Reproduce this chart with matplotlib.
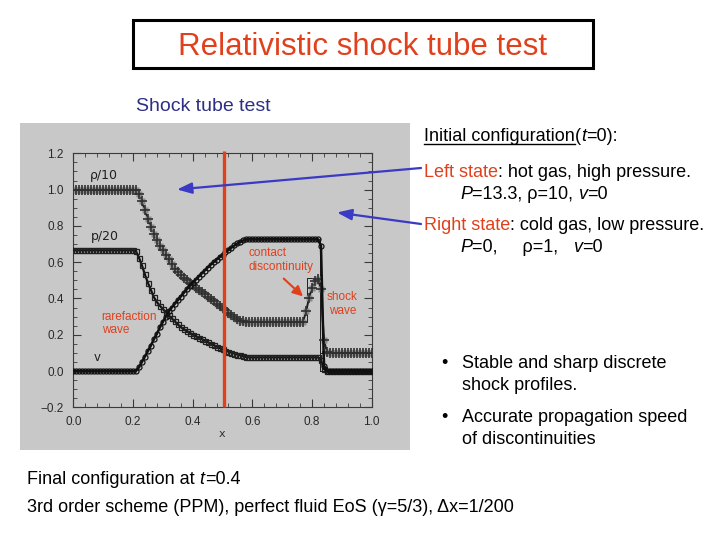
import matplotlib
matplotlib.use("Agg")
import matplotlib.pyplot as plt
from matplotlib.patches import Rectangle, FancyArrowPatch
from matplotlib.lines import Line2D
from matplotlib.ticker import MultipleLocator

plt.rcParams['font.family'] = ['Liberation Sans', 'DejaVu Sans']

# ---------------- data ----------------
x_grid = [i / 100 for i in range(101)]

rho10 = [1.0, 1.0, 1.0, 1.0, 1.0, 1.0, 1.0, 1.0, 1.0, 1.0,
         1.0, 1.0, 1.0, 1.0, 1.0, 1.0, 1.0, 1.0, 1.0, 1.0, 1.0,
         0.995, 0.975, 0.935, 0.885, 0.84, 0.795, 0.755, 0.72, 0.69, 0.665,
         0.64, 0.615, 0.59, 0.565, 0.545, 0.53, 0.515, 0.50, 0.485, 0.472,
         0.46, 0.447, 0.435, 0.422, 0.41, 0.398, 0.385, 0.372, 0.36, 0.347,
         0.335, 0.322, 0.31, 0.298, 0.287, 0.278, 0.273,
         0.27, 0.27, 0.27, 0.27, 0.27, 0.27, 0.27, 0.27, 0.27, 0.27,
         0.27, 0.27, 0.27, 0.27, 0.27, 0.27, 0.27, 0.27, 0.27, 0.27,
         0.33, 0.40, 0.46, 0.495, 0.505, 0.45, 0.17, 0.105,
         0.10, 0.10, 0.10, 0.10, 0.10, 0.10, 0.10, 0.10, 0.10, 0.10,
         0.10, 0.10, 0.10, 0.10, 0.10]

vel = [0.0, 0.0, 0.0, 0.0, 0.0, 0.0, 0.0, 0.0, 0.0, 0.0,
       0.0, 0.0, 0.0, 0.0, 0.0, 0.0, 0.0, 0.0, 0.0, 0.0, 0.0,
       0.0, 0.02, 0.05, 0.08, 0.11, 0.14, 0.175, 0.205, 0.24, 0.27,
       0.30, 0.33, 0.35, 0.37, 0.39, 0.41, 0.43, 0.45, 0.47, 0.487,
       0.503, 0.52, 0.537, 0.553, 0.57, 0.585, 0.60, 0.614, 0.627, 0.64,
       0.655, 0.668, 0.68, 0.692, 0.703, 0.713, 0.72,
       0.726, 0.726, 0.726, 0.726, 0.726, 0.726, 0.726, 0.726, 0.726, 0.726,
       0.726, 0.726, 0.726, 0.726, 0.726, 0.726, 0.726, 0.726, 0.726, 0.726,
       0.726, 0.726, 0.726, 0.726, 0.726,
       0.69, 0.03,
       0.0, 0.0, 0.0, 0.0, 0.0, 0.0, 0.0, 0.0, 0.0, 0.0,
       0.0, 0.0, 0.0, 0.0, 0.0, 0.0]

p20 = [0.665, 0.665, 0.665, 0.665, 0.665, 0.665, 0.665, 0.665, 0.665, 0.665,
       0.665, 0.665, 0.665, 0.665, 0.665, 0.665, 0.665, 0.665, 0.665, 0.665, 0.665,
       0.66, 0.625, 0.582, 0.532, 0.486, 0.447, 0.407, 0.38, 0.36, 0.342,
       0.323, 0.307, 0.29, 0.274, 0.257, 0.242, 0.231, 0.221, 0.211, 0.201,
       0.192, 0.184, 0.176, 0.168, 0.159, 0.151, 0.143, 0.135, 0.127, 0.119,
       0.112, 0.107, 0.101, 0.096, 0.091, 0.086, 0.081, 0.077,
       0.075, 0.075, 0.075, 0.075, 0.075, 0.075, 0.075, 0.075, 0.075, 0.075,
       0.075, 0.075, 0.075, 0.075, 0.075, 0.075, 0.075, 0.075, 0.075, 0.075,
       0.075, 0.075, 0.075, 0.075,
       0.06, 0.01,
       0.0, 0.0, 0.0, 0.0, 0.0, 0.0, 0.0, 0.0, 0.0, 0.0,
       0.0, 0.0, 0.0, 0.0, 0.0, 0.0]

# exact solution around contact / shock
exact_rho_x = [0.77, 0.784, 0.784, 0.827, 0.827, 0.87]
exact_rho_y = [0.27, 0.27, 0.511, 0.511, 0.10, 0.10]
exact_x = [0.80, 0.827, 0.827, 0.87]
exact_v = [0.726, 0.726, 0.0, 0.0]
exact_p = [0.075, 0.075, 0.0, 0.0]

snapshot_x = 0.505

xticks = [0.0, 0.2, 0.4, 0.6, 0.8, 1.0]
xticklabels = ['0.0', '0.2', '0.4', '0.6', '0.8', '1.0']
yticks = [-0.2, 0.0, 0.2, 0.4, 0.6, 0.8, 1.0, 1.2]
yticklabels = ['\u22120.2', '0.0', '0.2', '0.4', '0.6', '0.8', '1.0', '1.2']

# ---------------- figure ----------------
W, H = 720, 540
fig = plt.figure(figsize=(7.2, 5.4), dpi=100)
fig.patch.set_facecolor('white')


def fx(px):
    return px / W


def fy(py):
    return 1 - py / H


RED = '#e0401c'
BLUE = '#3a3ac4'
GREY = '#c8c8c8'

fig.add_artist(Rectangle((fx(20), fy(450)), (410 - 20) / W, (450 - 123) / H,
                         transform=fig.transFigure, facecolor=GREY,
                         edgecolor='none', zorder=0))

ax = fig.add_axes([fx(73.3), fy(407.3), 298.4 / W, 254 / H])
ax.set_facecolor(GREY)
ax.set_xlim(0, 1)
ax.set_ylim(-0.2, 1.2)
ax.set_xticks(xticks)
ax.set_xticklabels(xticklabels)
ax.set_yticks(yticks)
ax.set_yticklabels(yticklabels)
ax.xaxis.set_minor_locator(MultipleLocator(0.04))
ax.yaxis.set_minor_locator(MultipleLocator(0.05))
ax.tick_params(which='both', direction='in', top=True, right=True,
               colors='#3a3a3a', labelcolor='#2a2a2a', labelsize=8.5)
ax.tick_params(axis='x', which='major', pad=6)
ax.tick_params(axis='y', which='major', pad=7)
ax.tick_params(which='major', length=6, width=0.8)
ax.tick_params(which='minor', length=3, width=0.6)
for s in ax.spines.values():
    s.set_color('#3a3a3a')
    s.set_linewidth(0.8)

# numerical solution
ax.plot(x_grid, rho10, color='#202020', lw=1.4, zorder=3)
ax.plot(x_grid, rho10, ls='none', marker='s', ms=4.5, mfc='#8a8a8a', mec='none', zorder=3)
ax.plot(x_grid, rho10, ls='none', marker='+', ms=7, mew=1.2, color='#303030', zorder=3)
ax.plot(x_grid, p20, color='#101010', lw=1.6, zorder=3)
ax.plot(x_grid, p20, ls='none', marker='s', ms=3.6, mfc='none', mec='#202020', mew=0.9, zorder=3)
ax.plot(x_grid, vel, color='#101010', lw=1.8, zorder=3)
ax.plot(x_grid, vel, ls='none', marker='o', ms=3.6, mfc='none', mec='#101010', mew=0.9, zorder=3)

# exact solution (thin lines)
ax.plot(exact_rho_x, exact_rho_y, color='#202020', lw=0.7, zorder=2)
ax.plot(exact_x, exact_v, color='#202020', lw=0.7, zorder=2)
ax.plot(exact_x, exact_p, color='#202020', lw=0.7, zorder=2)

# snapshot line
ax.plot([snapshot_x, snapshot_x], [-0.2, 1.215], color=RED, lw=2.4,
        clip_on=False, zorder=6, solid_capstyle='butt')

# curve labels
ax.text(0.056, 1.075, '\u03c1/10', fontsize=9, family='DejaVu Sans',
        color='#202020', va='center', ha='left')
ax.text(0.06, 0.739, 'p/20', fontsize=9, family='DejaVu Sans',
        color='#202020', va='center', ha='left')
ax.text(0.067, 0.073, 'v', fontsize=8.5, family='DejaVu Sans',
        color='#202020', va='center', ha='left')

fig.text(fx(222), fy(434), 'x', fontsize=8, family='DejaVu Sans',
         color='#303030', ha='center', va='center')

# red annotations inside the plot
fig.text(fx(248.3), fy(253.3), 'contact', fontsize=8.5, color=RED,
         ha='left', va='center')
fig.text(fx(248.3), fy(266.7), 'discontinuity', fontsize=8.5, color=RED,
         ha='left', va='center')
fig.text(fx(342.5), fy(296.7), 'shock', fontsize=8.5, color=RED,
         ha='center', va='center')
fig.text(fx(342.5), fy(311.2), 'wave', fontsize=8.5, color=RED,
         ha='center', va='center')
fig.text(fx(101.7), fy(316.7), 'rarefaction', fontsize=8.5, color=RED,
         ha='left', va='center')
fig.text(fx(101.7), fy(330.4), 'wave', fontsize=8.5, color=RED,
         ha='left', va='center')
fig.add_artist(FancyArrowPatch((fx(281.7), fy(276.7)), (fx(305), fy(298.3)),
                               transform=fig.transFigure,
                               arrowstyle='-|>,head_length=0.6,head_width=0.3',
                               mutation_scale=10, color=RED, lw=1.5, zorder=7))

# blue arrows
fig.add_artist(FancyArrowPatch((fx(421), fy(168)), (fx(177), fy(189.5)),
                               transform=fig.transFigure,
                               arrowstyle='-|>,head_length=0.8,head_width=0.3',
                               mutation_scale=11, color=BLUE, lw=1.6, zorder=7,
                               shrinkA=0, shrinkB=0))
fig.add_artist(FancyArrowPatch((fx(421), fy(224)), (fx(337), fy(212.5)),
                               transform=fig.transFigure,
                               arrowstyle='-|>,head_length=0.8,head_width=0.3',
                               mutation_scale=11, color=BLUE, lw=1.6, zorder=7,
                               shrinkA=0, shrinkB=0))

# ---------------- slide texts ----------------
fig.add_artist(Rectangle((fx(133), fy(68)), (593 - 133) / W, (68 - 20) / H,
                         transform=fig.transFigure, facecolor='white',
                         edgecolor='black', lw=2.2, zorder=1))
fig.text(fx(363), fy(55), 'Relativistic shock tube test', fontsize=22.5,
         color=RED, ha='center', va='baseline')
fig.text(fx(136), fy(111), 'Shock tube test', fontsize=14, color='#2e2e86',
         ha='left', va='baseline')

renderer = fig.canvas.get_renderer()


def rich(px, py, parts, size):
    x = px
    out = []
    for s, kw in parts:
        t = fig.text(fx(x), fy(py), s, fontsize=size, ha='left',
                     va='baseline', **kw)
        bb = t.get_window_extent(renderer=renderer)
        out.append((x, bb.width))
        x += bb.width
    return out


FS = 13
ext = rich(424, 141, [('Initial configuration', {}), ('(', {}),
                      ('t', {'style': 'italic'}), ('=0):', {})], FS)
x0, w0 = ext[0]
fig.add_artist(Line2D([fx(x0), fx(x0 + w0)], [fy(143.5), fy(143.5)],
                      transform=fig.transFigure, color='black', lw=1.0))
rich(424, 177, [('Left state', {'color': RED}),
                (': hot gas, high pressure.', {})], FS)
rich(460, 199, [('P', {'style': 'italic'}), ('=13.3, \u03c1=10, ', {}),
                ('v', {'style': 'italic'}), ('=0', {})], FS)
rich(424, 230, [('Right state', {'color': RED}),
                (': cold gas, low pressure.', {})], FS)
rich(460, 252, [('P', {'style': 'italic'}), ('=0,     \u03c1=1,   ', {}),
                ('v', {'style': 'italic'}), ('=0', {})], FS)

BS = 13
for by, txt, bullet in [(368.5, 'Stable and sharp discrete', True),
                        (390.5, 'shock profiles.', False),
                        (422.5, 'Accurate propagation speed', True),
                        (444.5, 'of discontinuities', False)]:
    if bullet:
        fig.text(fx(441), fy(by), '\u2022', fontsize=BS, ha='left', va='baseline')
    fig.text(fx(462), fy(by), txt, fontsize=BS, ha='left', va='baseline')

rich(27, 483.5, [('Final configuration at ', {}), ('t', {'style': 'italic'}),
                 ('=0.4', {})], BS)
fig.text(fx(27), fy(511.5),
         '3rd order scheme (PPM), perfect fluid EoS (\u03b3=5/3), \u0394x=1/200',
         fontsize=BS, ha='left', va='baseline')

fig.savefig('out.png', dpi=100)
